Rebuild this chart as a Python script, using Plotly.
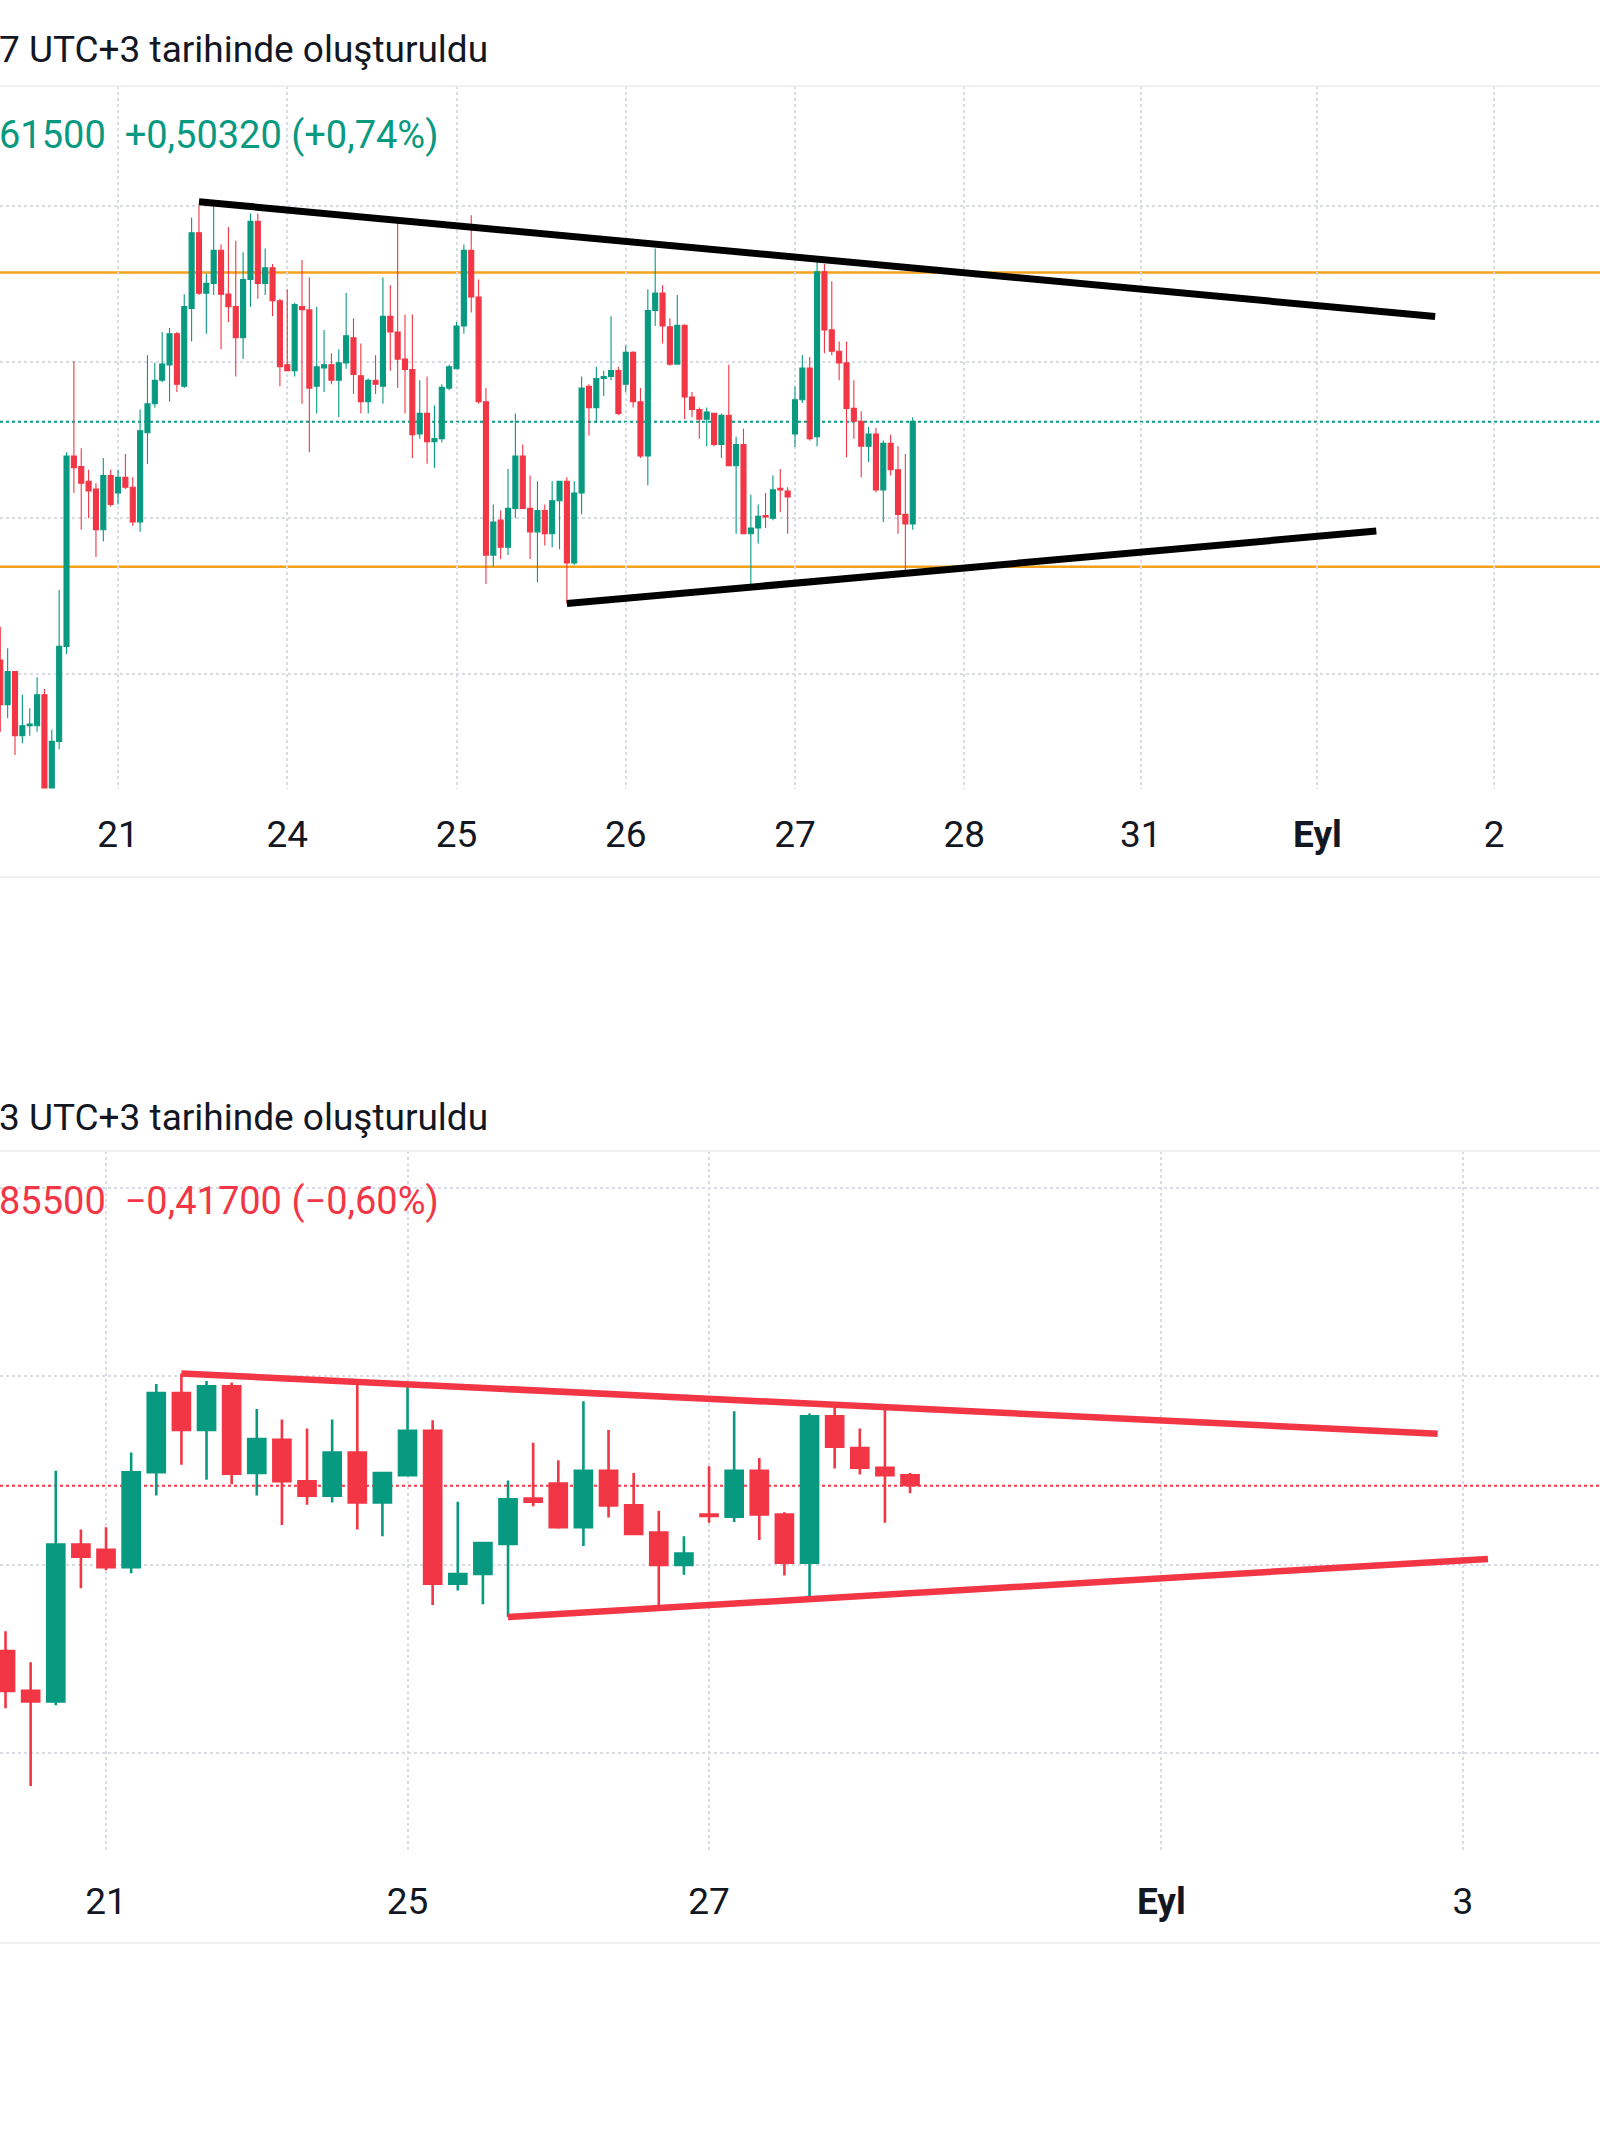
import plotly.graph_objects as go

# hourly candles, upper chart
top_open = [67.089, 66.803, 67.015, 66.604, 66.667, 66.667, 66.866, 66.269, 66.567, 67.176,
            68.396, 68.328, 68.234, 68.184, 67.923, 68.271, 68.159, 68.259, 68.196, 67.973,
            68.545, 68.731, 68.881, 68.980, 69.179, 68.843, 69.341, 69.826, 69.440, 69.502,
            69.714, 69.433, 69.353, 69.154, 69.527, 69.900, 69.502, 69.602, 69.391, 68.980,
            68.943, 69.353, 69.333, 68.843, 68.960, 68.980, 68.881, 68.993, 69.154, 68.910,
            68.744, 68.881, 68.843, 69.291, 69.191, 69.017, 68.950, 68.537, 68.669, 68.488,
            68.507, 68.831, 68.955, 69.229, 69.714, 69.415, 68.744, 67.761, 67.985, 67.811,
            68.060, 68.396, 68.060, 67.910, 68.047, 67.898, 68.109, 68.234, 67.711, 68.159,
            68.843, 68.706, 68.893, 68.905, 68.943, 68.856, 69.060, 68.744, 68.396, 69.328,
            69.440, 69.224, 68.985, 69.234, 68.774, 68.694, 68.632, 68.669, 68.470, 68.657,
            68.333, 68.470, 67.898, 67.935, 68.015, 67.997, 68.189, 68.172, 68.537, 68.756,
            68.960, 68.520, 69.577, 69.204, 69.067, 68.993, 68.701, 68.619, 68.458, 68.537,
            68.179, 68.478, 68.308, 68.022, 67.960]
top_close = [66.803, 67.015, 66.604, 66.667, 66.679, 66.866, 66.269, 66.567, 67.176, 68.396,
             68.321, 68.221, 68.172, 67.923, 68.271, 68.085, 68.259, 68.196, 67.973, 68.557,
             68.731, 68.881, 68.985, 69.179, 68.856, 69.353, 69.826, 69.440, 69.502, 69.714,
             69.433, 69.353, 69.154, 69.527, 69.900, 69.502, 69.602, 69.391, 68.968, 68.943,
             69.366, 69.333, 68.831, 68.968, 68.980, 68.881, 68.993, 69.167, 68.918, 68.744,
             68.881, 68.856, 69.291, 69.191, 69.017, 68.950, 68.532, 68.669, 68.488, 68.507,
             68.836, 68.968, 69.229, 69.714, 69.415, 68.744, 67.761, 67.973, 67.811, 68.060,
             68.396, 68.060, 67.910, 68.047, 67.898, 68.109, 68.234, 67.711, 68.159, 68.831,
             68.706, 68.893, 68.905, 68.943, 68.669, 69.060, 68.744, 68.396, 69.328, 69.440,
             69.229, 68.985, 69.234, 68.774, 68.694, 68.632, 68.677, 68.470, 68.657, 68.333,
             68.470, 67.898, 67.935, 68.010, 68.005, 68.179, 68.179, 68.134, 68.756, 68.960,
             68.507, 69.577, 69.204, 69.067, 68.993, 68.701, 68.619, 68.458, 68.537, 68.179,
             68.478, 68.308, 68.022, 67.960, 68.619]
top_high = [67.301, 67.164, 67.015, 66.866, 66.779, 66.978, 66.903, 66.642, 67.537, 68.420,
            69.005, 68.445, 68.308, 68.221, 68.383, 68.308, 68.308, 68.408, 68.259, 68.694,
            69.042, 68.993, 69.191, 69.216, 69.191, 69.433, 69.925, 70.000, 69.565, 70.025,
            69.751, 69.863, 69.776, 69.701, 69.950, 69.950, 69.726, 69.627, 69.403, 69.465,
            69.378, 69.652, 69.540, 69.353, 69.204, 69.055, 69.080, 69.440, 69.279, 69.117,
            68.893, 69.042, 69.540, 69.490, 69.925, 69.303, 69.303, 68.881, 68.905, 68.719,
            68.856, 68.980, 69.254, 69.751, 69.938, 69.527, 68.831, 68.085, 68.047, 68.313,
            68.669, 68.470, 68.271, 68.234, 68.085, 68.234, 68.234, 68.259, 68.234, 68.905,
            68.856, 68.968, 68.943, 69.291, 68.968, 69.104, 69.067, 68.831, 69.465, 69.726,
            69.490, 69.279, 69.428, 69.241, 68.806, 68.706, 68.706, 68.669, 68.669, 68.980,
            68.520, 68.570, 68.147, 68.085, 68.159, 68.271, 68.313, 68.196, 68.843, 69.042,
            69.030, 69.639, 69.627, 69.515, 69.129, 69.129, 68.881, 68.682, 68.582, 68.577,
            68.495, 68.532, 68.458, 68.408, 68.644]
top_low = [66.629, 66.716, 66.480, 66.555, 66.604, 66.629, 66.269, 66.269, 66.517, 67.127,
           68.159, 67.923, 67.997, 67.749, 67.848, 68.072, 68.085, 68.184, 67.948, 67.910,
           68.346, 68.706, 68.868, 68.744, 68.806, 68.831, 69.129, 69.428, 69.179, 69.428,
           69.080, 69.254, 68.905, 69.017, 69.353, 69.403, 69.428, 69.291, 68.843, 68.943,
           68.905, 68.731, 68.420, 68.669, 68.806, 68.856, 68.644, 68.955, 68.794, 68.669,
           68.669, 68.794, 68.731, 68.943, 68.831, 68.669, 68.383, 68.507, 68.346, 68.321,
           68.483, 68.818, 68.955, 69.179, 69.316, 68.731, 67.575, 67.687, 67.736, 67.761,
           67.997, 68.060, 67.736, 67.587, 67.823, 67.811, 67.799, 67.450, 67.699, 68.022,
           68.527, 68.607, 68.781, 68.881, 68.657, 68.806, 68.706, 68.383, 68.209, 69.229,
           69.117, 68.975, 68.980, 68.632, 68.644, 68.507, 68.458, 68.458, 68.383, 68.333,
           67.898, 67.898, 67.537, 67.836, 67.935, 67.985, 68.035, 67.898, 68.453, 68.736,
           68.495, 68.458, 69.055, 69.042, 68.881, 68.388, 68.507, 68.259, 68.358, 68.164,
           67.973, 68.271, 67.898, 67.637, 67.923]

top_ticks = [16, 39, 62, 85, 108, 131, 155, 179, 203]
top_tick_text = ["21", "24", "25", "26", "27", "28", "31", "<b>Eyl</b>", "2"]
top_levels = [69.572, 67.687]
top_last = 68.615
top_upper_x = [27, 195]
top_upper_y = [70.025, 69.29]
top_lower_x = [77, 187]
top_lower_y = [67.45, 67.915]

# 4 hour candles, lower chart
bot_open = [68.636, 68.583, 68.569, 68.777, 68.770, 68.747, 68.873, 68.978, 68.929, 68.987,
            68.872, 68.916, 68.861, 68.842, 68.899, 68.833, 68.869, 68.928, 68.725, 68.738,
            68.778, 68.838, 68.858, 68.800, 68.875, 68.829, 68.793, 68.750, 68.817, 68.814,
            68.875, 68.817, 68.753, 68.947, 68.905, 68.879, 68.869]
bot_close = [68.583, 68.569, 68.777, 68.761, 68.747, 68.873, 68.978, 68.929, 68.987, 68.871,
             68.917, 68.861, 68.842, 68.899, 68.833, 68.872, 68.928, 68.725, 68.738, 68.779,
             68.837, 68.834, 68.800, 68.875, 68.829, 68.791, 68.750, 68.765, 68.815, 68.875,
             68.817, 68.753, 68.947, 68.907, 68.879, 68.869, 68.856]
bot_high = [68.662, 68.621, 68.875, 68.797, 68.800, 68.899, 68.990, 69.004, 68.994, 68.992,
            68.957, 68.943, 68.931, 68.943, 68.991, 68.872, 68.992, 68.942, 68.834, 68.779,
            68.862, 68.912, 68.889, 68.967, 68.929, 68.872, 68.822, 68.788, 68.881, 68.954,
            68.892, 68.820, 68.951, 68.966, 68.931, 68.957, 68.872]
bot_low = [68.560, 68.457, 68.564, 68.719, 68.743, 68.739, 68.842, 68.883, 68.863, 68.857,
           68.842, 68.803, 68.830, 68.833, 68.797, 68.788, 68.869, 68.697, 68.716, 68.698,
           68.681, 68.828, 68.798, 68.775, 68.813, 68.791, 68.694, 68.737, 68.806, 68.807,
           68.783, 68.736, 68.705, 68.878, 68.870, 68.806, 68.845]

bot_ticks = [4, 16, 28, 46, 58]
bot_tick_text = ["21", "25", "27", "<b>Eyl</b>", "3"]
bot_last = 68.855
bot_upper_x = [7, 57]
bot_upper_y = [69.004, 68.924]
bot_lower_x = [20, 59]
bot_lower_y = [68.681, 68.758]

GREEN = "#089981"
RED = "#f23645"
ORANGE = "#f6a11c"
GRID = "#d9dce3"
TEXT = "#131722"
W, H = 1600, 2133


def py(px):
    # pixel row from top -> paper y
    return 1 - px / H


fig = go.Figure()

fig.add_trace(go.Candlestick(
    x=list(range(len(top_open))), open=top_open, high=top_high, low=top_low, close=top_close,
    increasing=dict(line=dict(color=GREEN, width=1.1), fillcolor=GREEN),
    decreasing=dict(line=dict(color=RED, width=1.1), fillcolor=RED),
    xaxis="x", yaxis="y", hoverinfo="skip"))
fig.add_trace(go.Scatter(x=top_upper_x, y=top_upper_y, mode="lines",
                         line=dict(color="black", width=7), xaxis="x", yaxis="y"))
fig.add_trace(go.Scatter(x=top_lower_x, y=top_lower_y, mode="lines",
                         line=dict(color="black", width=7), xaxis="x", yaxis="y"))

fig.add_trace(go.Candlestick(
    x=list(range(len(bot_open))), open=bot_open, high=bot_high, low=bot_low, close=bot_close,
    increasing=dict(line=dict(color=GREEN, width=2.6), fillcolor=GREEN),
    decreasing=dict(line=dict(color=RED, width=2.6), fillcolor=RED),
    xaxis="x2", yaxis="y2", hoverinfo="skip"))
fig.add_trace(go.Scatter(x=bot_upper_x, y=bot_upper_y, mode="lines",
                         line=dict(color=RED, width=6.5), xaxis="x2", yaxis="y2"))
fig.add_trace(go.Scatter(x=bot_lower_x, y=bot_lower_y, mode="lines",
                         line=dict(color=RED, width=6.5), xaxis="x2", yaxis="y2"))

xax = dict(showgrid=True, gridcolor=GRID, gridwidth=2, griddash="dot", zeroline=False,
           showline=False, ticks="outside", tickcolor="rgba(0,0,0,0)",
           tickfont=dict(family="Roboto", size=37, color=TEXT),
           rangeslider=dict(visible=False), tickmode="array")
yax = dict(showgrid=True, gridcolor=GRID, gridwidth=2, griddash="dot", zeroline=False,
           showline=False, showticklabels=False, tickmode="array")

shapes = []
for lvl in top_levels:
    shapes.append(dict(type="line", xref="paper", yref="y", x0=0, x1=1, y0=lvl, y1=lvl,
                       line=dict(color=ORANGE, width=2.5), layer="below"))
shapes.append(dict(type="line", xref="paper", yref="y", x0=0, x1=1, y0=top_last, y1=top_last,
                   line=dict(color=GREEN, width=2, dash="dot"), layer="below"))
shapes.append(dict(type="line", xref="paper", yref="y2", x0=0, x1=1, y0=bot_last, y1=bot_last,
                   line=dict(color=RED, width=2, dash="dot"), layer="below"))
for row in [86, 877, 1151, 1943]:
    shapes.append(dict(type="line", xref="paper", yref="paper", x0=0, x1=1,
                       y0=py(row), y1=py(row), line=dict(color="#eef0f4", width=2)))

annots = [
    dict(text="7 UTC+3 tarihinde oluşturuldu", x=0, y=py(50), font=dict(size=37, color=TEXT)),
    dict(text="61500\u00a0\u00a0+0,50320 (+0,74%)", x=0, y=py(135), font=dict(size=38, color=GREEN)),
    dict(text="3 UTC+3 tarihinde oluşturuldu", x=0, y=py(1117), font=dict(size=37, color=TEXT)),
    dict(text="85500\u00a0\u00a0\u22120,41700 (\u22120,60%)", x=0, y=py(1201), font=dict(size=38, color=RED)),
]
for a in annots:
    a.update(xref="paper", yref="paper", xanchor="left", yanchor="middle", showarrow=False,
             xshift=-3)
    a["font"]["family"] = "Roboto"

fig.update_layout(
    width=W, height=H, margin=dict(l=0, r=0, t=0, b=0),
    paper_bgcolor="white", plot_bgcolor="white", showlegend=False,
    boxgap=0.32, boxgroupgap=0,
    xaxis=dict(xax, domain=[0, 1], anchor="y", range=[-0.04, 217.4], tickvals=top_ticks,
               ticktext=top_tick_text, ticklen=13),
    yaxis=dict(yax, domain=[py(789), py(86)], anchor="x", range=[66.262, 70.767],
               tickvals=[67, 68, 69, 70]),
    xaxis2=dict(xax, domain=[0, 1], anchor="y2", range=[-0.22, 63.46], tickvals=bot_ticks,
                ticktext=bot_tick_text, ticklen=19),
    yaxis2=dict(yax, domain=[py(1850), py(1151)], anchor="x2", range=[68.372, 69.299],
                tickvals=[68.5, 68.75, 69.0, 69.25]),
    shapes=shapes, annotations=annots,
)

# the page body has a default margin; remove it so the figure sits at 0,0
fig.write_html("out.html", config={"displayModeBar": False},
               post_script="document.body.style.margin='0';")
